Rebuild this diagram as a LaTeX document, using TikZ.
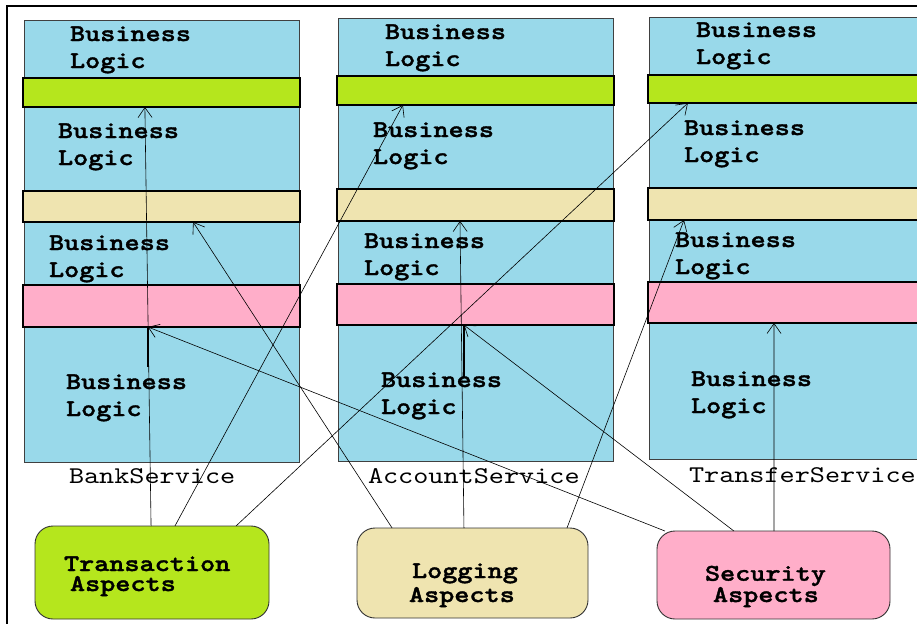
\documentclass[tikz,border=0pt]{standalone}
\usetikzlibrary{arrows.meta,calc}
\font\courbold="[lmmonolt10-bold]:extend=1.2;embolden=1.5" at 24pt
\font\courreg="[lmmono10-regular]:extend=1.2" at 24pt
\definecolor{svcblue}{RGB}{153,217,234}
\definecolor{txgreen}{RGB}{181,230,29}
\definecolor{logtan}{RGB}{239,228,176}
\definecolor{secpink}{RGB}{255,174,201}

\begin{document}
\begin{tikzpicture}[x=1pt, y=-1pt, >={Straight Barb[length=10pt,width=14pt]},
	every node/.style={inner sep=0pt, outer sep=0pt},
	service/.style={fill=svcblue, draw=black!75, line width=0.8pt, minimum width=275pt},
	band/.style={draw=black, line width=1.2pt, minimum width=277pt},
	aspect/.style={draw=black!80, line width=0.9pt, rounded corners=18pt},
	logic/.style={font=\fontsize{24}{27}\selectfont\courbold, align=left, anchor=base west},
	svcname/.style={font=\courreg, anchor=base west},
	aspname/.style={font=\fontsize{24}{#1}\selectfont\courbold, align=left, anchor=base west},
	conn/.style={->, line width=0.6pt}]
	\useasboundingbox (0,0) rectangle (917,624);
	\clip (0,0) rectangle (917,624);
	\fill[white] (0,0) rectangle (917,624);
	\draw[line width=2pt] (917,6) -- (7,6) -- (7,624);
	% services
	\node[service, minimum height=442pt] (bank) at (161.5,241) {};
	\node[service, minimum height=443pt] (account) at (475.5,239.5) {};
	\node[service, minimum height=442pt] (transfer) at (786.5,238) {};
	% woven layers
	\node[band, fill=txgreen, minimum height=29pt] (bank-tx) at (161.5,92.5) {};
	\node[band, fill=logtan, minimum height=31pt] (bank-log) at (161.5,206.5) {};
	\node[band, fill=secpink, minimum height=42pt] (bank-sec) at (161.5,306) {};
	\node[band, fill=txgreen, minimum height=29pt] (account-tx) at (475.5,90.5) {};
	\node[band, fill=logtan, minimum height=32pt] (account-log) at (475.5,205) {};
	\node[band, fill=secpink, minimum height=41pt] (account-sec) at (475.5,304.5) {};
	\node[band, fill=txgreen, minimum height=28pt] (transfer-tx) at (786.5,89) {};
	\node[band, fill=logtan, minimum height=32pt] (transfer-log) at (786.5,204) {};
	\node[band, fill=secpink, minimum height=41pt] (transfer-sec) at (786.5,302.5) {};
	% business logic
	\node[logic] (bank-bl1) at (70,68) {Business\\Logic};
	\node[logic] (bank-bl2) at (58,165) {Business\\Logic};
	\node[logic] (bank-bl3) at (49,277) {Business\\Logic};
	\node[logic] (bank-bl4) at (66,416) {Business\\Logic};
	\node[logic] (account-bl1) at (385,66) {Business\\Logic};
	\node[logic] (account-bl2) at (373,164) {Business\\Logic};
	\node[logic] (account-bl3) at (364,275) {Business\\Logic};
	\node[logic] (account-bl4) at (381,414) {Business\\Logic};
	\node[logic] (transfer-bl1) at (696,64) {Business\\Logic};
	\node[logic] (transfer-bl2) at (684,162) {Business\\Logic};
	\node[logic] (transfer-bl3) at (675,274) {Business\\Logic};
	\node[logic] (transfer-bl4) at (691,413) {Business\\Logic};
	\node[svcname] (bank-name) at (69,483) {BankService};
	\node[svcname] (account-name) at (368,483) {AccountService};
	\node[svcname] (transfer-name) at (689,482) {TransferService};
	% aspects
	\node[aspect, fill=txgreen, minimum width=234pt, minimum height=93pt] (tx) at (152,572.5) {};
	\node[aspect, fill=logtan, minimum width=231pt, minimum height=90pt] (log) at (472.5,573) {};
	\node[aspect, fill=secpink, minimum width=233pt, minimum height=88pt] (sec) at (773.5,575) {};
	\node[aspname=20pt] (tx-name) at (64,591) {Transaction\\\hspace*{6pt}Aspects};
	\node[aspname=24pt] (log-name) at (409,602) {\hspace*{3pt}Logging\\Aspects};
	\node[aspname=20pt] (sec-name) at (705,602) {Security\\\hspace*{8pt}Aspects};
	% weaving
	\draw[conn] ($(tx.north west)!.496!(tx.north east)$) -- ($(bank-tx.south west)!.44!(bank-tx.south east)$);
	\draw[conn] ($(tx.north west)!.598!(tx.north east)$) -- ($(account-tx.south west)!.238!(account-tx.south east)$);
	\draw[conn] ($(tx.north west)!.859!(tx.north east)$) -- ($(transfer-tx.south west)!.144!(transfer-tx.south east)$);
	\draw[conn] ($(log.north west)!.152!(log.north east)$) -- ($(bank-log.south west)!.614!(bank-log.south east)$);
	\draw[conn] ($(log.north west)!.463!(log.north east)$) -- ($(account-log.south west)!.444!(account-log.south east)$);
	\draw[conn] ($(log.north west)!.909!(log.north east)$) -- ($(transfer-log.south west)!.13!(transfer-log.south east)$);
	\draw[conn] ($(sec.north west)!.034!(sec.north east)$) -- ($(bank-sec.south west)!.451!(bank-sec.south east)$);
	\draw[conn] ($(sec.north west)!.33!(sec.north east)$) -- ($(account-sec.south west)!.458!(account-sec.south east)$);
	\draw[conn] ($(sec.north west)!.502!(sec.north east)$) -- ($(transfer-sec.south west)!.455!(transfer-sec.south east)$);
	\draw[line width=1.6pt] ($(bank-sec.south west)!.451!(bank-sec.south east)$) -- ++(0,40);
	\draw[line width=1.6pt] ($(account-sec.south west)!.458!(account-sec.south east)$) -- ++(0,52);
\end{tikzpicture}
\end{document}
